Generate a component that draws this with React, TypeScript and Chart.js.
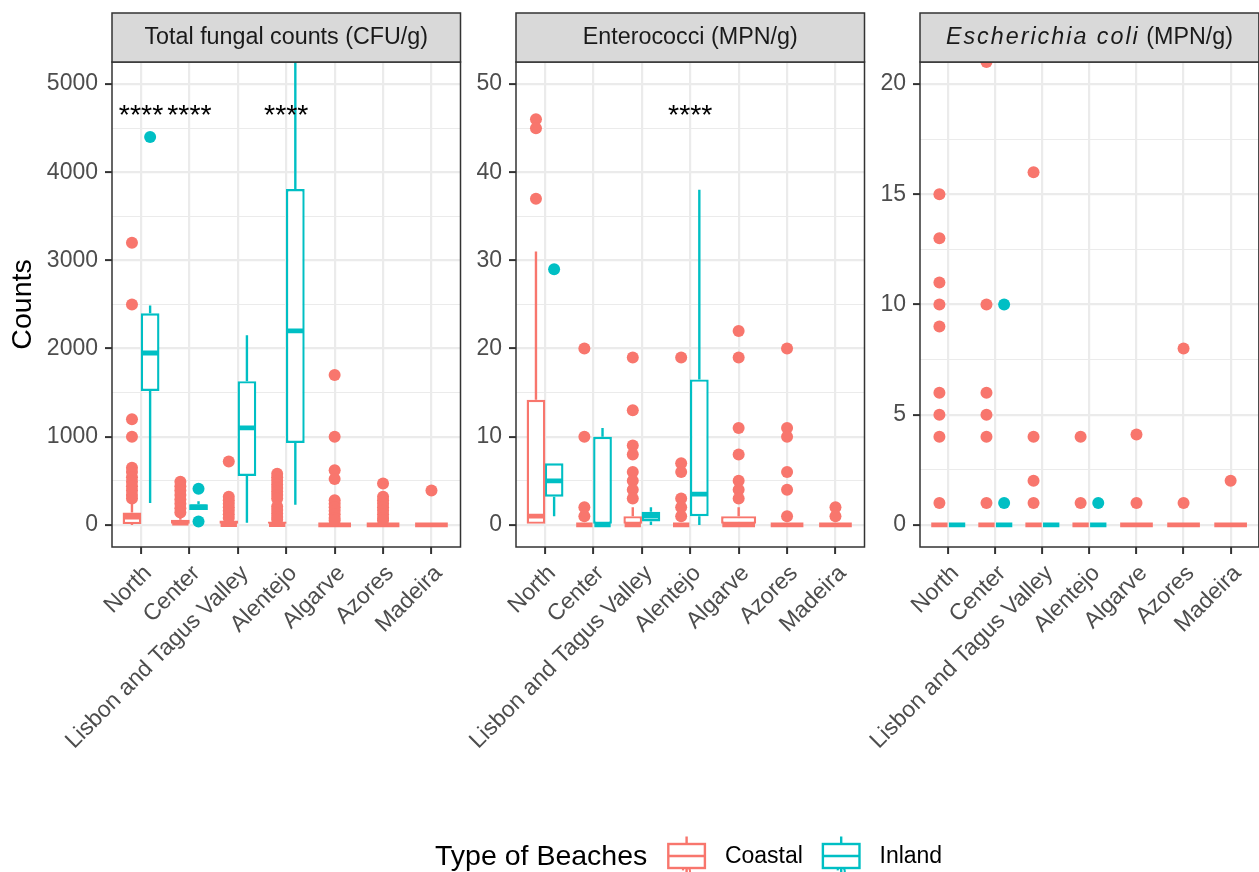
import React, { useEffect, useRef } from "react";
import { Chart, registerables } from "chart.js";

Chart.register(...registerables);

const FONT = "'Liberation Sans', Arial, Helvetica, sans-serif";

// ---------- data ----------
const categories = ["North", "Center", "Lisbon and Tagus Valley", "Alentejo", "Algarve", "Azores", "Madeira"];
const groupNames = ["Coastal", "Inland"];
const groupColors = ["#F8766D", "#00BFC4"];
const legendTitle = "Type of Beaches";
const yAxisTitle = "Counts";
const panelTitles = ["Total fungal counts (CFU/g)", "Enterococci (MPN/g)", "Escherichia coli (MPN/g)"];
const italicTerm = "Escherichia coli";

// Box stats: [lower whisker, Q1, median, Q3, upper whisker]; null = no box
const fungiCoastalBox = [
  [0, 10, 90, 140, 270],
  [0, 0, 20, 60, 100],
  [0, 0, 5, 50, 70],
  [0, 0, 5, 40, 55],
  [0, 0, 0, 15, 30],
  [0, 0, 0, 15, 30],
  [0, 0, 0, 0, 0],
];
const fungiInlandBox = [
  [250, 1520, 1950, 2400, 2490],
  [170, 170, 205, 235, 270],
  [25, 555, 1100, 1630, 2150],
  [230, 930, 2200, 3810, 5600],
  null,
  null,
  null,
];
const fungiCoastalOutliers = [
  [3200, 2500, 1200, 1000, 650, 600, 540, 490, 440, 390, 340, 300],
  [490, 440, 390, 340, 290, 240, 190, 140],
  [720, 320, 280, 240, 200, 160, 120, 80],
  [580, 540, 500, 460, 420, 380, 340, 300, 210, 170, 130, 90, 60],
  [1700, 1000, 620, 520, 280, 240, 200, 160, 120, 80, 50],
  [470, 320, 280, 240, 200, 160, 120, 80, 50],
  [390],
];
const fungiInlandOutliers = [[4400], [410, 40], [], [], [], [], []];
const fungiTicks = [0, 1000, 2000, 3000, 4000, 5000];
const fungiLimits = [-250, 5250];
const fungiStars = ["****", "****", "", "****", "", "", ""];
const fungiStarLevel = 4640;

const enteroCoastalBox = [
  [0, 0, 1, 14.2, 31],
  [0, 0, 0, 0, 0],
  [0, 0, 0, 1, 2],
  [0, 0, 0, 0, 0],
  [0, 0, 0, 1, 2],
  [0, 0, 0, 0, 0],
  [0, 0, 0, 0, 0],
];
const enteroInlandBox = [
  [1, 3.2, 5, 7, 7],
  [0, 0, 0, 10, 11],
  [0, 0.4, 1, 1.5, 2],
  [0, 1, 3.5, 16.5, 38],
  null,
  null,
  null,
];
const enteroCoastalOutliers = [
  [46, 45, 37],
  [20, 10, 2, 1],
  [19, 13, 9, 8, 6, 5, 4, 3],
  [19, 7, 6, 3, 2, 1],
  [22, 19, 11, 8, 5, 4, 3],
  [20, 11, 10, 6, 4, 1],
  [2, 1],
];
const enteroInlandOutliers = [[29], [], [], [], [], [], []];
const enteroTicks = [0, 10, 20, 30, 40, 50];
const enteroLimits = [-2.5, 52.5];
const enteroStars = ["", "", "", "****", "", "", ""];
const enteroStarLevel = 46.4;

const ecoliCoastalBox = [
  [0, 0, 0, 0, 0],
  [0, 0, 0, 0, 0],
  [0, 0, 0, 0, 0],
  [0, 0, 0, 0, 0],
  [0, 0, 0, 0, 0],
  [0, 0, 0, 0, 0],
  [0, 0, 0, 0, 0],
];
const ecoliInlandBox = [
  [0, 0, 0, 0, 0],
  [0, 0, 0, 0, 0],
  [0, 0, 0, 0, 0],
  [0, 0, 0, 0, 0],
  null,
  null,
  null,
];
const ecoliCoastalOutliers = [
  [15, 13, 11, 10, 9, 6, 5, 4, 1],
  [21, 10, 6, 5, 4, 1],
  [16, 4, 2, 1],
  [4, 1],
  [4.1, 1],
  [8, 1],
  [2],
];
const ecoliInlandOutliers = [[], [10, 1], [], [1], [], [], []];
const ecoliTicks = [0, 5, 10, 15, 20];
const ecoliLimits = [-1, 21];
const ecoliStars = ["", "", "", "", "", "", ""];
const ecoliStarLevel = 0;

// ---------- layout ----------
const CANVAS_W = 1280;
const CANVAS_H = 872;
const STRIP_TOP = 13;
const PANEL_TOP = 62;
const PANEL_BOTTOM = 547;
const PANEL_W = 348.5;
const PANEL_LEFTS = [112, 516, 920];
const Y_AXIS_W = [112, 46, 50];
const X_AXIS_H = 250;
const UNIT_PX = PANEL_W / 7.2;
const DODGE = 0.1875;
const BOX_DODGED = 0.3375;
const BOX_FULL = 0.675;
const LINE_W = 2.4;

const panels = [
  {
    title: panelTitles[0],
    coastalBox: fungiCoastalBox,
    inlandBox: fungiInlandBox,
    coastalOut: fungiCoastalOutliers,
    inlandOut: fungiInlandOutliers,
    ticks: fungiTicks,
    limits: fungiLimits,
    stars: fungiStars,
    starLevel: fungiStarLevel,
  },
  {
    title: panelTitles[1],
    coastalBox: enteroCoastalBox,
    inlandBox: enteroInlandBox,
    coastalOut: enteroCoastalOutliers,
    inlandOut: enteroInlandOutliers,
    ticks: enteroTicks,
    limits: enteroLimits,
    stars: enteroStars,
    starLevel: enteroStarLevel,
  },
  {
    title: panelTitles[2],
    coastalBox: ecoliCoastalBox,
    inlandBox: ecoliInlandBox,
    coastalOut: ecoliCoastalOutliers,
    inlandOut: ecoliInlandOutliers,
    ticks: ecoliTicks,
    limits: ecoliLimits,
    stars: ecoliStars,
    starLevel: ecoliStarLevel,
  },
];

function buildDatasets(p: any) {
  const boxes = [p.coastalBox, p.inlandBox];
  const outs = [p.coastalOut, p.inlandOut];
  const ds: any[] = [];
  [0, 1].forEach((g) => {
    const color = groupColors[g];
    const whisk: any[] = [];
    const bars: Record<string, any[]> = { d: [], f: [] };
    const meds: Record<string, any[]> = { d: [], f: [] };
    const pts: any[] = [];
    categories.forEach((_, i) => {
      const b = boxes[g][i];
      if (!b) return;
      const dodged = p.inlandBox[i] != null && p.coastalBox[i] != null;
      const x = dodged ? i + (g === 0 ? -DODGE : DODGE) : i;
      const [lo, q1, med, q3, hi] = b;
      whisk.push({ x, y: lo }, { x, y: q1 }, { x, y: null }, { x, y: q3 }, { x, y: hi }, { x, y: null });
      const k = dodged ? "d" : "f";
      bars[k].push({ x, y: [q1, q3] });
      meds[k].push({ x, y: med });
      outs[g][i].forEach((v: number) => pts.push({ x, y: v }));
    });
    ds.push({
      type: "scatter",
      label: groupNames[g] + " outliers",
      data: pts,
      order: 1,
      clip: 0,
      pointRadius: 6,
      pointBackgroundColor: color,
      backgroundColor: color,
      pointBorderWidth: 0,
      borderWidth: 0,
    });
    ["d", "f"].forEach((k) => {
      if (!bars[k].length) return;
      const wpx = (k === "d" ? BOX_DODGED : BOX_FULL) * UNIT_PX;
      ds.push({
        type: "bar",
        label: groupNames[g] + " box",
        data: bars[k],
        order: 3,
        clip: 0,
        grouped: false,
        barThickness: wpx + LINE_W,
        backgroundColor: "#FFFFFF",
        borderColor: color,
        borderWidth: LINE_W,
        borderSkipped: false,
        inflateAmount: 0,
      });
      ds.push({
        type: "scatter",
        label: groupNames[g] + " median",
        data: meds[k],
        order: 2,
        clip: 0,
        pointStyle: "line",
        pointRadius: wpx / 2,
        pointBorderColor: color,
        borderColor: color,
        pointBorderWidth: 4.8,
      });
    });
    ds.push({
      type: "line",
      label: groupNames[g] + " whiskers",
      data: whisk,
      order: 4,
      clip: 0,
      borderColor: color,
      borderWidth: LINE_W,
      pointRadius: 0,
      spanGaps: false,
      fill: false,
    });
  });
  return ds;
}

const panelDecor = {
  id: "panelDecor",
  afterDatasetsDraw(chart: any, _args: any, opts: any) {
    const { ctx, chartArea: a, scales } = chart;
    ctx.save();
    // stars
    if (opts.stars) {
      ctx.font = `28.5px ${FONT}`;
      ctx.fillStyle = "#000000";
      ctx.textAlign = "center";
      ctx.textBaseline = "middle";
      opts.stars.forEach((s: string, i: number) => {
        if (!s) return;
        ctx.fillText(s, scales.x.getPixelForValue(i), scales.y.getPixelForValue(opts.starLevel));
      });
    }
    // panel border
    ctx.strokeStyle = "#333333";
    ctx.lineWidth = 1.5;
    ctx.strokeRect(a.left, a.top, a.right - a.left, a.bottom - a.top);
    // strip
    ctx.fillStyle = "#D9D9D9";
    ctx.fillRect(a.left, STRIP_TOP, a.right - a.left, a.top - STRIP_TOP);
    ctx.strokeRect(a.left, STRIP_TOP, a.right - a.left, a.top - STRIP_TOP);
    const title: string = opts.title;
    const idx = title.indexOf(italicTerm);
    const parts: [string, boolean][] =
      idx >= 0
        ? ([
            [title.slice(0, idx), false],
            [italicTerm, true],
            [title.slice(idx + italicTerm.length), false],
          ] as [string, boolean][]).filter((q) => q[0].length > 0)
        : [[title, false]];
    const setFont = (it: boolean) => {
      ctx.font = `${it ? "italic " : ""}23.3px ${FONT}`;
      (ctx as any).letterSpacing = it ? "2px" : "0px";
    };
    const widths = parts.map(([t, it]) => {
      setFont(it);
      return ctx.measureText(t).width;
    });
    const total = widths.reduce((s, w) => s + w, 0);
    let x = (a.left + a.right) / 2 - total / 2;
    ctx.fillStyle = "#1A1A1A";
    ctx.textAlign = "left";
    ctx.textBaseline = "alphabetic";
    parts.forEach(([t, it], k) => {
      setFont(it);
      ctx.fillText(t, x, 44);
      x += widths[k];
    });
    (ctx as any).letterSpacing = "0px";

    // legend
    if (opts.legend) {
      const ly = 857;
      let lx = 435;
      ctx.font = `28.5px ${FONT}`;
      ctx.fillStyle = "#000000";
      ctx.textAlign = "left";
      ctx.textBaseline = "middle";
      ctx.fillText(legendTitle, lx, ly);
      lx += ctx.measureText(legendTitle).width + 20;
      groupNames.forEach((name, g) => {
        const color = groupColors[g];
        const kw = 38.6;
        const cx = lx + kw / 2;
        ctx.strokeStyle = color;
        ctx.lineWidth = LINE_W;
        ctx.beginPath();
        ctx.moveTo(cx, 836.5);
        ctx.lineTo(cx, 844);
        ctx.moveTo(cx, 868);
        ctx.lineTo(cx, 876);
        ctx.stroke();
        ctx.strokeRect(lx + 1, 844, kw - 2, 24);
        ctx.beginPath();
        ctx.moveTo(lx + 1, 856);
        ctx.lineTo(lx + kw - 1, 856);
        ctx.stroke();
        ctx.fillStyle = color;
        ctx.font = `22.5px ${FONT}`;
        ctx.textAlign = "center";
        ctx.textBaseline = "alphabetic";
        ctx.fillText("a", cx, 879);
        lx += kw + 19;
        ctx.fillStyle = "#000000";
        ctx.font = `23px ${FONT}`;
        ctx.textAlign = "left";
        ctx.textBaseline = "middle";
        ctx.fillText(name, lx, ly);
        lx += ctx.measureText(name).width + 19;
      });
    }
    ctx.restore();
  },
};

function buildConfig(p: any, k: number): any {
  const majors: number[] = p.ticks;
  const step = majors[1] - majors[0];
  const allTicks: number[] = [];
  majors.forEach((v, i) => {
    allTicks.push(v);
    if (i < majors.length - 1) allTicks.push(v + step / 2);
  });
  const isMajor = (v: number) => majors.includes(v);
  const left = PANEL_LEFTS[k];
  return {
    type: "bar",
    data: { datasets: buildDatasets(p) },
    plugins: [panelDecor],
    options: {
      animation: false,
      responsive: false,
      devicePixelRatio: 1,
      events: [],
      layout: {
        padding: {
          left: left - Y_AXIS_W[k],
          right: CANVAS_W - (left + PANEL_W),
          top: PANEL_TOP,
          bottom: CANVAS_H - PANEL_BOTTOM - X_AXIS_H,
        },
      },
      plugins: {
        legend: { display: false },
        tooltip: { enabled: false },
        title: { display: false },
        panelDecor: {
          title: p.title,
          stars: p.stars,
          starLevel: p.starLevel,
          legend: k === 1,
        },
      },
      scales: {
        x: {
          type: "linear",
          min: -0.6,
          max: categories.length - 1 + 0.6,
          bounds: "data",
          offset: false,
          afterBuildTicks: (s: any) => {
            s.ticks = categories.map((_, i) => ({ value: i }));
          },
          afterFit: (s: any) => {
            s.height = X_AXIS_H;
          },
          ticks: {
            callback: (v: any) => categories[v] ?? "",
            autoSkip: false,
            minRotation: 45,
            maxRotation: 45,
            padding: 6,
            labelOffset: 7,
            color: "#4D4D4D",
            font: { size: 23, family: FONT },
          },
          grid: {
            offset: false,
            color: "#EBEBEB",
            lineWidth: 2.2,
            tickColor: "#333333",
            tickWidth: 2,
            tickLength: 7,
            drawTicks: true,
          },
          border: { display: false },
        },
        y: {
          type: "linear",
          min: p.limits[0],
          max: p.limits[1],
          bounds: "data",
          afterBuildTicks: (s: any) => {
            s.ticks = allTicks.map((v) => ({ value: v }));
          },
          afterFit: (s: any) => {
            s.width = Y_AXIS_W[k];
          },
          ticks: {
            callback: (v: any) => (isMajor(v) ? String(v) : ""),
            autoSkip: false,
            padding: 7,
            color: "#4D4D4D",
            font: { size: 23, family: FONT },
          },
          grid: {
            color: "#EBEBEB",
            lineWidth: (c: any) => (c.tick && isMajor(c.tick.value) ? 2.2 : 1.1),
            tickColor: (c: any) => (c.tick && isMajor(c.tick.value) ? "#333333" : "rgba(0,0,0,0)"),
            tickWidth: 2,
            tickLength: 7,
            drawTicks: true,
          },
          border: { display: false },
          title: {
            display: k === 0,
            text: yAxisTitle,
            color: "#000000",
            font: { size: 28.5, family: FONT },
            padding: { top: 6, bottom: 0 },
          },
        },
      },
    },
  };
}

export default function App() {
  const r0 = useRef<HTMLCanvasElement>(null);
  const r1 = useRef<HTMLCanvasElement>(null);
  const r2 = useRef<HTMLCanvasElement>(null);
  useEffect(() => {
    const refs = [r0, r1, r2];
    const charts = panels.map((p, k) => new Chart(refs[k].current as HTMLCanvasElement, buildConfig(p, k)));
    return () => charts.forEach((c) => c.destroy());
  }, []);
  const cstyle: React.CSSProperties = { position: "absolute", left: 0, top: 0, width: CANVAS_W, height: CANVAS_H };
  return (
    <div
      style={{
        position: "absolute",
        left: 0,
        top: 0,
        width: 1259,
        height: 872,
        overflow: "hidden",
        background: "#FFFFFF",
      }}
    >
      <canvas ref={r0} width={CANVAS_W} height={CANVAS_H} style={cstyle} />
      <canvas ref={r1} width={CANVAS_W} height={CANVAS_H} style={cstyle} />
      <canvas ref={r2} width={CANVAS_W} height={CANVAS_H} style={cstyle} />
    </div>
  );
}
